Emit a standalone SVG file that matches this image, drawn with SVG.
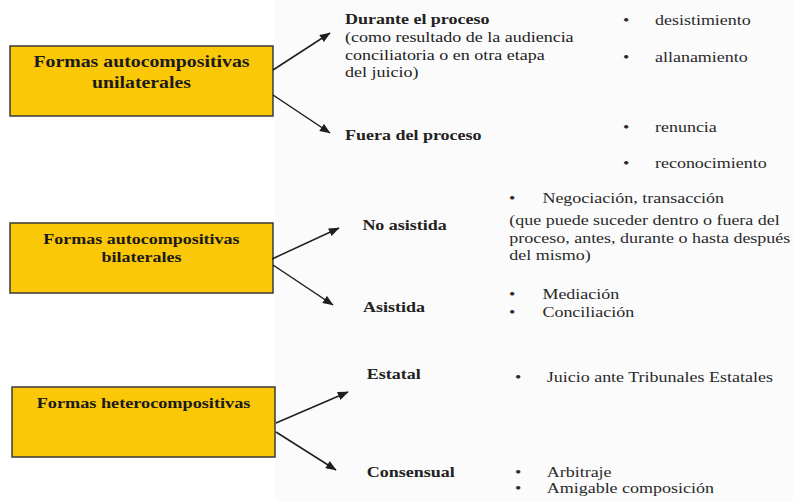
<svg xmlns="http://www.w3.org/2000/svg" width="793" height="502" viewBox="0 0 793 502">
<defs>
<marker id="ah" viewBox="0 0 10 8" refX="9.5" refY="4" markerWidth="11" markerHeight="8.5" markerUnits="userSpaceOnUse" orient="auto">
<path d="M0,0 L10,4 L0,8 z" fill="#1e1e1e"/>
</marker>
</defs>
<rect width="793" height="502" fill="#ffffff"/>
<rect x="275" y="0" width="518" height="502" fill="#fbfbfb"/>

<g id="node-unilaterales">
<rect x="10" y="46" width="263" height="70" fill="#FBC808" stroke="#3a3a3a" stroke-width="1.5"/>
<g transform="scale(1.2 1)" font-weight="bold" fill="#1a1a1a" text-anchor="middle" font-size="16.5">
<text style="font-family:'Liberation Serif',serif" x="117.9" y="67">Formas autocompositivas</text>
<text style="font-family:'Liberation Serif',serif" x="117.9" y="88">unilaterales</text>
</g>
</g>
<g id="node-bilaterales">
<rect x="10" y="223" width="263" height="70" fill="#FBC808" stroke="#3a3a3a" stroke-width="1.5"/>
<g transform="scale(1.2 1)" font-weight="bold" fill="#1a1a1a" text-anchor="middle" font-size="15">
<text style="font-family:'Liberation Serif',serif" x="117.9" y="244">Formas autocompositivas</text>
<text style="font-family:'Liberation Serif',serif" x="117.9" y="262">bilaterales</text>
</g>
</g>
<g id="node-heterocompositivas">
<rect x="12" y="387" width="263" height="70" fill="#FBC808" stroke="#3a3a3a" stroke-width="1.5"/>
<g transform="scale(1.2 1)" font-weight="bold" fill="#1a1a1a" text-anchor="middle" font-size="15.2">
<text style="font-family:'Liberation Serif',serif" x="119.6" y="408">Formas heterocompositivas</text>
</g>
</g>

<g id="connectors" stroke="#1e1e1e" stroke-width="1.5" fill="none" marker-end="url(#ah)">
<line x1="273" y1="70" x2="330" y2="33"/>
<line x1="273" y1="95" x2="330" y2="133"/>
<line x1="272" y1="259" x2="339" y2="228"/>
<line x1="273" y1="265" x2="333" y2="305"/>
<line x1="276" y1="423" x2="348" y2="392"/>
<line x1="276" y1="432" x2="336" y2="470"/>
</g>

<g id="node-durante" transform="scale(1.2 1)" font-size="15" fill="#222222">
<text style="font-family:'Liberation Serif',serif" font-weight="bold" x="287.5" y="24">Durante el proceso</text>
<text style="font-family:'Liberation Serif',serif" x="287.5" y="42">(como resultado de la audiencia</text>
<text style="font-family:'Liberation Serif',serif" x="287.5" y="60">conciliatoria o en otra etapa</text>
<text style="font-family:'Liberation Serif',serif" x="287.5" y="77">del juicio)</text>
</g>
<g id="node-fuera" transform="scale(1.2 1)" font-size="15" fill="#222222" font-weight="bold">
<text style="font-family:'Liberation Serif',serif" x="287.5" y="140">Fuera del proceso</text>
</g>
<g id="list-durante" transform="scale(1.2 1)" font-size="15" fill="#2a2a2a">
<text style="font-family:'Liberation Serif',serif" x="519.2" y="25">•</text><text style="font-family:'Liberation Serif',serif" x="545.8" y="25">desistimiento</text>
<text style="font-family:'Liberation Serif',serif" x="519.2" y="62">•</text><text style="font-family:'Liberation Serif',serif" x="545.8" y="62">allanamiento</text>
</g>
<g id="list-fuera" transform="scale(1.2 1)" font-size="15" fill="#2a2a2a">
<text style="font-family:'Liberation Serif',serif" x="519.2" y="132">•</text><text style="font-family:'Liberation Serif',serif" x="545.8" y="132">renuncia</text>
<text style="font-family:'Liberation Serif',serif" x="519.2" y="168">•</text><text style="font-family:'Liberation Serif',serif" x="545.8" y="168">reconocimiento</text>
</g>

<g id="node-noasistida" transform="scale(1.2 1)" font-size="15" fill="#222222" font-weight="bold">
<text style="font-family:'Liberation Serif',serif" x="302" y="230">No asistida</text>
</g>
<g id="node-asistida" transform="scale(1.2 1)" font-size="15" fill="#222222" font-weight="bold">
<text style="font-family:'Liberation Serif',serif" x="302.5" y="312">Asistida</text>
</g>
<g id="list-noasistida" transform="scale(1.2 1)" font-size="15" fill="#2a2a2a">
<text style="font-family:'Liberation Serif',serif" x="424.2" y="203">•</text><text style="font-family:'Liberation Serif',serif" x="452" y="203">Negociación, transacción</text>
<text style="font-family:'Liberation Serif',serif" x="424.4" y="225">(que puede suceder dentro o fuera del</text>
<text style="font-family:'Liberation Serif',serif" x="424.4" y="243">proceso, antes, durante o hasta después</text>
<text style="font-family:'Liberation Serif',serif" x="424.4" y="260">del mismo)</text>
</g>
<g id="list-asistida" transform="scale(1.2 1)" font-size="15" fill="#2a2a2a">
<text style="font-family:'Liberation Serif',serif" x="424.2" y="299">•</text><text style="font-family:'Liberation Serif',serif" x="452" y="299">Mediación</text>
<text style="font-family:'Liberation Serif',serif" x="424.2" y="317">•</text><text style="font-family:'Liberation Serif',serif" x="452" y="317">Conciliación</text>
</g>

<g id="node-estatal" transform="scale(1.2 1)" font-size="15" fill="#222222" font-weight="bold">
<text style="font-family:'Liberation Serif',serif" x="305.6" y="379">Estatal</text>
</g>
<g id="node-consensual" transform="scale(1.2 1)" font-size="15" fill="#222222" font-weight="bold">
<text style="font-family:'Liberation Serif',serif" x="305.6" y="477">Consensual</text>
</g>
<g id="list-estatal" transform="scale(1.2 1)" font-size="15" fill="#2a2a2a">
<text style="font-family:'Liberation Serif',serif" x="429.2" y="382">•</text><text style="font-family:'Liberation Serif',serif" x="455.6" y="382">Juicio ante Tribunales Estatales</text>
</g>
<g id="list-consensual" transform="scale(1.2 1)" font-size="15" fill="#2a2a2a">
<text style="font-family:'Liberation Serif',serif" x="429.2" y="477">•</text><text style="font-family:'Liberation Serif',serif" x="455.6" y="477">Arbitraje</text>
<text style="font-family:'Liberation Serif',serif" x="429.2" y="493">•</text><text style="font-family:'Liberation Serif',serif" x="455.6" y="493">Amigable composición</text>
</g>
</svg>
